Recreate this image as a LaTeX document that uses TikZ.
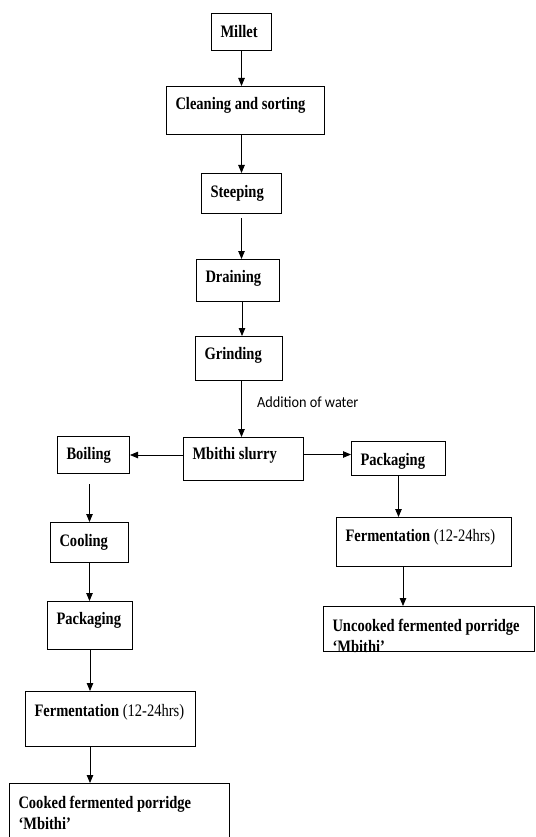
\documentclass[tikz,border=0pt]{standalone}
\usepackage{fontspec}
\setmainfont{Liberation Serif}[FakeStretch=0.83]
\newfontfamily\notefont{Carlito}[FakeStretch=0.92]
\usetikzlibrary{arrows.meta}
\begin{document}
\begin{tikzpicture}[x=1pt,y=-1pt,
    stepbox/.style={draw, line width=1pt, inner xsep=9pt, inner ysep=0pt,
      anchor=north west, align=flush left,
      font=\fontsize{17.5}{21}\selectfont\bfseries},
    flow/.style={-{Triangle[length=8pt,width=6.5pt]}, line width=0.8pt},
    note/.style={font=\notefont\fontsize{15.5}{18}\selectfont}]
  \useasboundingbox (0,0) rectangle (535,837);
  % main line
  \node[stepbox, text width=42pt, text height=24pt, text depth=13pt] (millet) at (211,13) {Millet};
  \node[stepbox, text width=140pt, text height=23.5pt, text depth=24.5pt] (cleaning) at (166,86) {\mbox{Cleaning and sorting}};
  \node[stepbox, text width=62pt, text height=24pt, text depth=16pt] (steeping) at (201,173) {Steeping};
  \node[stepbox, text width=65pt, text height=23pt, text depth=19pt] (draining) at (196,259) {Draining};
  \node[stepbox, text width=69pt, text height=23pt, text depth=21pt] (grinding) at (195,336) {Grinding};
  \node[stepbox, text width=102pt, text height=22pt, text depth=21pt] (slurry) at (183,437) {\mbox{Mbithi slurry}};
  % cooked branch
  \node[stepbox, text width=54pt, text height=23pt, text depth=14pt] (boiling) at (57,436) {Boiling};
  \node[stepbox, text width=60pt, text height=24pt, text depth=16pt] (cooling) at (50,522) {Cooling};
  \node[stepbox, text width=67pt, text height=23pt, text depth=25pt] (packL) at (47,601) {Packaging};
  \node[stepbox, text width=152pt, text height=25pt, text depth=30pt] (fermL) at (25,691) {\mbox{Fermentation {\mdseries(12-24hrs)}}};
  \node[stepbox, text width=202pt, text height=25pt, text depth=62pt] (cooked) at (9,783) {\mbox{Cooked fermented porridge}\\`Mbithi'};
  % uncooked branch
  \node[stepbox, text width=76pt, text height=24pt, text depth=10pt] (packR) at (351,441) {Packaging};
  \node[stepbox, text width=157pt, text height=24pt, text depth=25pt] (fermR) at (336,517) {\mbox{Fermentation {\mdseries(12-24hrs)}}};
  \node[stepbox, text width=193pt, text height=25pt, text depth=20pt] (uncooked) at (323,606) {\mbox{Uncooked fermented porridge}\\`Mbithi'};

  \draw[flow] (millet) -- (millet |- cleaning.north);
  \draw[flow] (steeping |- cleaning.south) -- (steeping);
  \draw[flow] ([yshift=-4pt]steeping.south) -- (steeping.south |- draining.north);
  \draw[flow] ([xshift=4pt]draining.south) -- ([xshift=4pt]draining.south |- grinding.north);
  \draw[flow] ([xshift=2.5pt]grinding.south) -- ([xshift=2.5pt]grinding.south |- slurry.north)
    node[note, pos=.47, anchor=base west, xshift=12pt] (water) {Addition of water};
  \draw[flow] (slurry.west |- boiling) -- (boiling);
  \draw[flow] ([yshift=4.5pt]slurry.east) -- ([yshift=4.5pt]slurry.east -| packR.west);
  \draw[flow] ([yshift=-10pt]boiling.south -| cooling) -- (cooling);
  \draw[flow] (cooling) -- (cooling |- packL.north);
  \draw[flow] (packL) -- (packL |- fermL.north);
  \draw[flow] (packL |- fermL.south) -- (packL |- cooked.north);
  \draw[flow] (packR) -- (packR |- fermR.north);
  \draw[flow] ([xshift=-21pt]fermR.south) -- ([xshift=-21pt]fermR.south |- uncooked.north);
\end{tikzpicture}
\end{document}
